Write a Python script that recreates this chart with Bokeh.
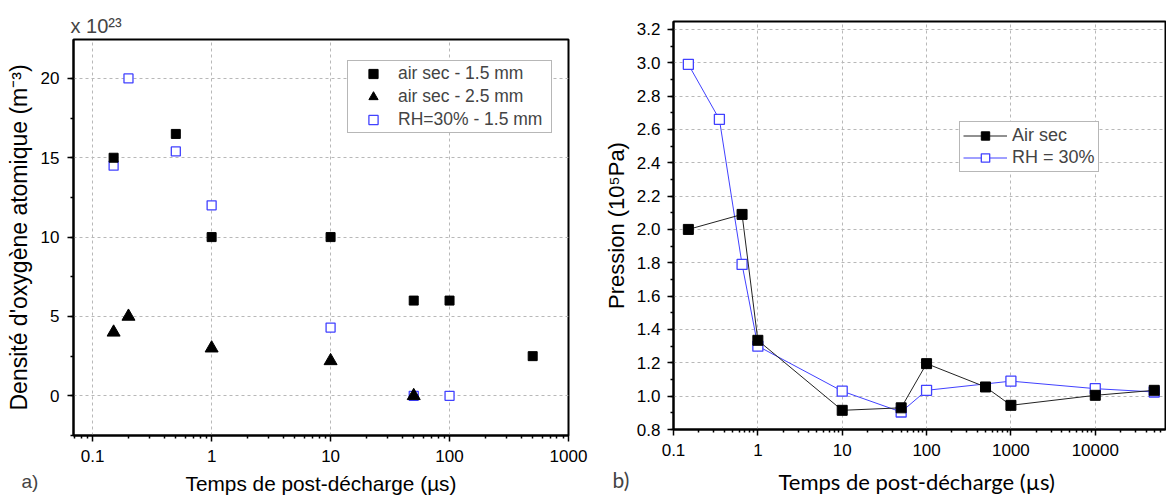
from bokeh.plotting import figure
from bokeh.models import (Range1d, FixedTicker, SingleIntervalTicker, Legend, LegendItem,
                          Title, PrintfTickFormatter, CustomJSTickFormatter)
from bokeh.embed import file_html
from bokeh.resources import INLINE

# ---------------- data: panel a) ----------------
a_x_sec15 = [0.15, 0.5, 1, 10, 50, 100, 500]
a_y_sec15 = [15, 16.5, 10, 10, 6, 6, 2.5]
a_x_sec25 = [0.15, 0.2, 1, 10, 50]
a_y_sec25 = [4, 5, 3, 2.2, 0]
a_x_rh15 = [0.15, 0.2, 0.5, 1, 10, 50, 100]
a_y_rh15 = [14.5, 20, 15.4, 12, 4.3, 0, 0]
a_labels = ["air sec - 1.5 mm", "air sec - 2.5 mm", "RH=30% - 1.5 mm"]

# ---------------- data: panel b) ----------------
b_x_air = [0.15, 0.65, 1, 10, 50, 100, 500, 1000, 10000, 50000]
b_y_air = [2.00, 2.09, 1.335, 0.915, 0.93, 1.195, 1.055, 0.945, 1.005, 1.035]
b_x_rh = [0.15, 0.35, 0.65, 1, 10, 50, 100, 1000, 10000, 50000]
b_y_rh = [2.99, 2.66, 1.79, 1.30, 1.03, 0.905, 1.035, 1.09, 1.045, 1.025]
b_labels = ["Air sec", "RH = 30%"]

a_major = [0.1, 1, 10, 100, 1000]
b_major = [0.1, 1, 10, 100, 1000, 10000]
minor = [m * 10.0 ** e for e in range(-2, 5) for m in range(2, 10)]

ARIAL = "Liberation Sans"
CALIBRI = "Lato"
BLUE = "#4141ff"
GRID = "#b8b8b8"

logfmt = CustomJSTickFormatter(code="return tick < 1 ? tick.toFixed(1) : tick.toFixed(0);")


def style(p, tick_size):
    p.outline_line_color = "black"
    p.outline_line_width = 2
    p.outline_line_alpha = 1
    for ax in (p.xaxis[0], p.yaxis[0]):
        ax.axis_line_width = 2
        ax.major_tick_line_width = 1.5
        ax.minor_tick_line_width = 1.5
        ax.major_tick_in = 0
        ax.major_tick_out = 6
        ax.minor_tick_in = 0
        ax.minor_tick_out = 3
        ax.major_label_text_font = ARIAL
        ax.major_label_text_font_size = tick_size
        ax.major_label_text_color = "black"
        ax.axis_label_text_font_style = "normal"
        ax.axis_label_text_color = "black"
        ax.axis_line_color = "black"
        ax.major_tick_line_color = "black"
        ax.minor_tick_line_color = "black"
    for g in (p.xgrid[0], p.ygrid[0]):
        g.grid_line_color = GRID
        g.grid_line_dash = "3 3"
        g.grid_line_width = 1


# ================= panel a =================
pa = figure(width=600, height=497, x_axis_type="log", output_backend="svg",
            toolbar_location=None,
            x_range=Range1d(0.069, 1000), y_range=Range1d(-2.5, 22.45),
            min_border_left=73, min_border_right=32, min_border_top=39, min_border_bottom=61)
pa.styles = {"position": "absolute", "left": "0px", "top": "0px"}
style(pa, "17px")
pa.title.text = "x 10²³"
pa.title.align = "left"
pa.title.offset = -3
pa.title.standoff = 6
pa.title.text_font = ARIAL
pa.title.text_font_size = "20px"
pa.title.text_font_style = "normal"
pa.xaxis.ticker = FixedTicker(ticks=a_major, minor_ticks=minor)
pa.xaxis.formatter = logfmt
pa.yaxis.ticker = SingleIntervalTicker(interval=5, num_minor_ticks=2)
pa.xaxis.axis_label = "Temps de post-décharge (µs)"
pa.yaxis.axis_label = "Densité d'oxygène atomique (m⁻³)"
pa.xaxis.axis_label_text_font = ARIAL
pa.xaxis.axis_label_text_font_size = "20.8px"
pa.yaxis.axis_label_text_font = ARIAL
pa.yaxis.axis_label_text_font_size = "23px"
pa.xaxis.major_label_standoff = 8
pa.xaxis.axis_label_standoff = 7
pa.yaxis.major_label_standoff = 8
pa.yaxis.axis_label_standoff = 6

r_rh = pa.scatter(a_x_rh15, a_y_rh15, marker="square", size=9, fill_color="white",
                  line_color=BLUE, line_width=1.3)
r_s15 = pa.scatter(a_x_sec15, a_y_sec15, marker="square", size=9, fill_color="black",
                   line_color="black")
r_s25 = pa.scatter(a_x_sec25, a_y_sec25, marker="triangle", size=13, fill_color="black",
                   line_color="black")

leg_a = Legend(items=[LegendItem(label=a_labels[0], renderers=[r_s15]),
                      LegendItem(label=a_labels[1], renderers=[r_s25]),
                      LegendItem(label=a_labels[2], renderers=[r_rh])],
               location=(274, 302), orientation="vertical",
               label_text_font=ARIAL, label_text_font_size="17.5px",
               glyph_width=48, glyph_height=23, label_height=23, label_standoff=1,
               label_width=152, padding=1, spacing=0, margin=0,
               border_line_color="#707070", border_line_width=1.2,
               background_fill_color="white", background_fill_alpha=1)
pa.add_layout(leg_a, "center")

pa.add_layout(Title(text="a)", align="left", offset=-52, standoff=-54, vertical_align="top",
                    text_font=ARIAL, text_font_size="19px", text_font_style="normal"), "below")

# ================= panel b =================
pb = figure(width=566, height=497, x_axis_type="log", output_backend="svg",
            toolbar_location=None, title=None,
            x_range=Range1d(0.1, 68000), y_range=Range1d(0.8, 3.247),
            min_border_left=68, min_border_right=1, min_border_top=21, min_border_bottom=68)
pb.styles = {"position": "absolute", "left": "600px", "top": "0px"}
style(pb, "17px")
pb.xaxis.ticker = FixedTicker(ticks=b_major, minor_ticks=minor)
pb.xaxis.formatter = logfmt
pb.yaxis.ticker = SingleIntervalTicker(interval=0.2, num_minor_ticks=2)
pb.yaxis.formatter = PrintfTickFormatter(format="%.1f")
pb.xaxis.axis_label = "Temps de post-décharge  (µs)"
pb.yaxis.axis_label = "Pression (10⁵Pa)"
pb.xaxis.axis_label_text_font = CALIBRI
pb.xaxis.axis_label_text_font_size = "22px"
pb.yaxis.axis_label_text_font = ARIAL
pb.yaxis.axis_label_text_font_size = "22px"
pb.xaxis.major_label_standoff = 8
pb.xaxis.axis_label_standoff = 9
pb.yaxis.major_label_standoff = 7
pb.yaxis.axis_label_standoff = 5

l_rh = pb.line(b_x_rh, b_y_rh, line_color=BLUE, line_width=1)
s_rh = pb.scatter(b_x_rh, b_y_rh, marker="square", size=10, fill_color="white",
                  line_color=BLUE, line_width=1.3)
l_air = pb.line(b_x_air, b_y_air, line_color="#222222", line_width=1)
s_air = pb.scatter(b_x_air, b_y_air, marker="square", size=10, fill_color="black",
                   line_color="black")

leg_b = Legend(items=[LegendItem(label=b_labels[0], renderers=[l_air, s_air]),
                      LegendItem(label=b_labels[1], renderers=[l_rh, s_rh])],
               location=(286, 257), orientation="vertical",
               label_text_font=ARIAL, label_text_font_size="18px",
               glyph_width=44, glyph_height=21, label_height=21, label_standoff=5,
               padding=3, spacing=1, margin=0,
               border_line_color="#707070", border_line_width=1.5,
               background_fill_color="white", background_fill_alpha=1)
pb.add_layout(leg_b, "center")

pb.add_layout(Title(text="b)", align="left", offset=-61, standoff=-62, vertical_align="top",
                    text_font=CALIBRI, text_font_size="21px", text_font_style="normal"), "below")

open("out.html", "w").write(file_html([pa, pb], INLINE))
